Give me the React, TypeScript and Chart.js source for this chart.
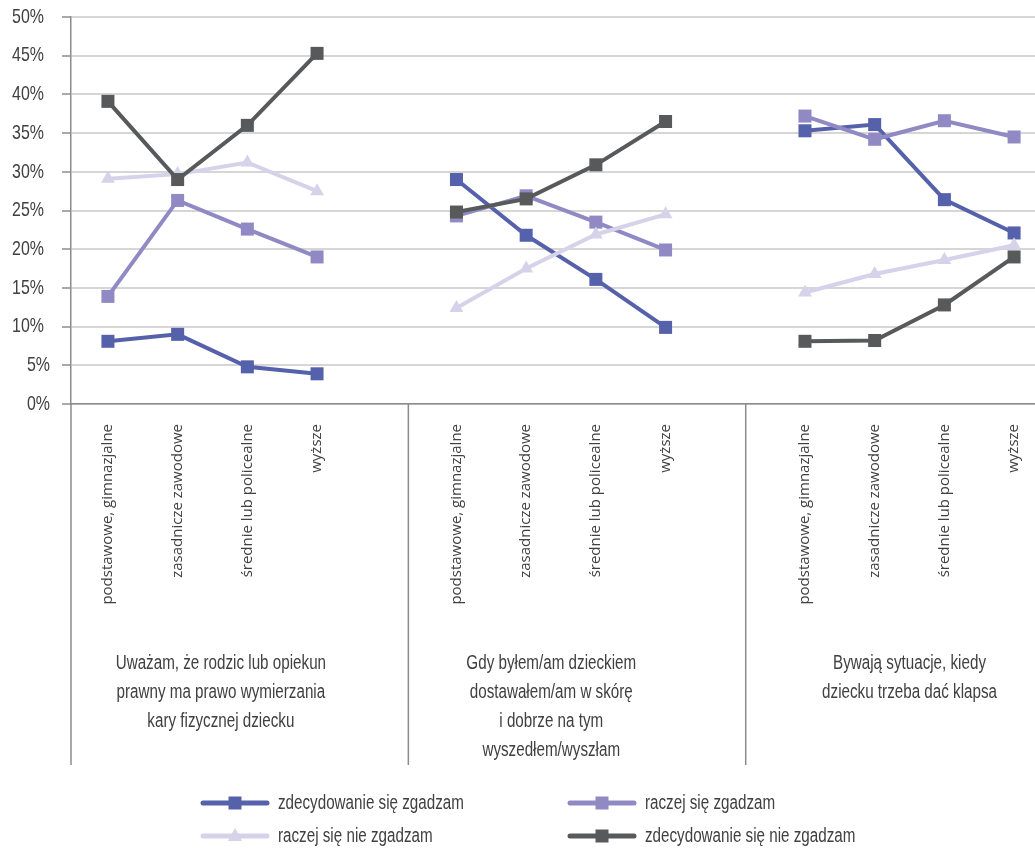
import React, { useEffect, useRef } from 'react';
import { Chart, registerables } from 'chart.js';

Chart.register(...registerables);

// ---------- data ----------
const categories = ['podstawowe, gimnazjalne', 'zasadnicze zawodowe', 'średnie lub policealne', 'wyższe'];

const groupTitles = [
  ['Uważam, że rodzic lub opiekun', 'prawny ma prawo wymierzania', 'kary fizycznej dziecku'],
  ['Gdy byłem/am dzieckiem', 'dostawałem/am w skórę', 'i dobrze na tym', 'wyszedłem/wyszłam'],
  ['Bywają sytuacje, kiedy', 'dziecku trzeba dać klapsa'],
];

const seriesNames = [
  'zdecydowanie się zgadzam',
  'raczej się zgadzam',
  'raczej się nie zgadzam',
  'zdecydowanie się nie zgadzam',
];

// values per group (3 groups x 4 categories)
const zdecydowanieZgadzam = [8.1, 9.0, 4.8, 3.9, 29.0, 21.8, 16.1, 9.9, 35.3, 36.1, 26.4, 22.1];
const raczejZgadzam = [13.9, 26.3, 22.6, 19.0, 24.3, 26.9, 23.5, 19.9, 37.2, 34.2, 36.6, 34.5];
const raczejNieZgadzam = [29.1, 29.7, 31.2, 27.5, 12.4, 17.5, 21.9, 24.5, 14.4, 16.8, 18.6, 20.5];
const zdecydowanieNieZgadzam = [39.1, 29.0, 36.0, 45.3, 24.8, 26.5, 30.9, 36.5, 8.1, 8.2, 12.8, 19.0];

const yTicks = [0, 5, 10, 15, 20, 25, 30, 35, 40, 45, 50];

// ---------- styles ----------
const COLORS = ['#5561ab', '#9189c4', '#d5d2ea', '#58595b'];
const POINT_STYLES = ['rect', 'rect', 'triangle', 'rect'];
const AXIS = '#8c8c8c';
const GRID = '#d6d6d6';
const TEXT = '#404040';
const NARROW = "'Liberation Sans', Arial, sans-serif";
const NARROW_SCALE = 0.76;
const NORMAL = "'Open Sans', 'Noto Sans', sans-serif";

const SLOT = categories.length + 1; // one empty slot between groups
const X_MIN = -0.53;
const X_MAX = 13.3;
const SEPARATORS = [4.31, 9.15];
const GROUP_CENTERS = [1.62, 6.36, 11.5];

function buildPoints(values: number[]) {
  const pts: { x: number; y: number | null }[] = [];
  groupTitles.forEach((_, g) => {
    categories.forEach((_, c) => {
      pts.push({ x: g * SLOT + c, y: values[g * categories.length + c] });
    });
    if (g < groupTitles.length - 1) pts.push({ x: g * SLOT + categories.length, y: null });
  });
  return pts;
}

function narrowText(ctx: CanvasRenderingContext2D, text: string, x: number, y: number, align: CanvasTextAlign, size: number) {
  ctx.save();
  ctx.translate(x, y);
  ctx.scale(NARROW_SCALE, 1);
  ctx.font = `${size}px ${NARROW}`;
  ctx.fillStyle = TEXT;
  ctx.textAlign = align;
  ctx.textBaseline = 'middle';
  ctx.fillText(text, 0, 0);
  ctx.restore();
}

function drawMarker(ctx: CanvasRenderingContext2D, style: string, x: number, y: number, color: string) {
  ctx.fillStyle = color;
  if (style === 'triangle') {
    ctx.beginPath();
    ctx.moveTo(x, y - 8);
    ctx.lineTo(x + 7, y + 5);
    ctx.lineTo(x - 7, y + 5);
    ctx.closePath();
    ctx.fill();
  } else {
    ctx.fillRect(x - 6.5, y - 6.5, 13, 13);
  }
}

const decorPlugin = {
  id: 'decor',
  afterDraw(chart: any) {
    const { ctx, chartArea, scales } = chart;
    const xs = scales.x;
    const ys = scales.y;
    ctx.save();
    // y tick labels (condensed)
    yTicks.forEach((v) => {
      const py = ys.getPixelForValue(v);
      narrowText(ctx, `${v}%`, v < 10 ? 50 : 44, py, 'right', 21);
    });
    // vertical axis extension and group separators
    ctx.strokeStyle = AXIS;
    ctx.lineWidth = 1.5;
    const vx = [chartArea.left, ...SEPARATORS.map((v) => xs.getPixelForValue(v))];
    vx.forEach((px) => {
      ctx.beginPath();
      ctx.moveTo(px, chartArea.bottom);
      ctx.lineTo(px, 765);
      ctx.stroke();
    });
    // group titles
    groupTitles.forEach((lines, g) => {
      const cx = xs.getPixelForValue(GROUP_CENTERS[g]);
      lines.forEach((t, i) => narrowText(ctx, t, cx, 663 + i * 29, 'center', 20));
    });
    // legend (2 columns)
    const cols = [203, 570];
    const rows = [803, 836];
    seriesNames.forEach((name, s) => {
      const lx = cols[s % 2];
      const ly = rows[Math.floor(s / 2)];
      ctx.strokeStyle = COLORS[s];
      ctx.lineWidth = 5;
      ctx.lineCap = 'round';
      ctx.beginPath();
      ctx.moveTo(lx, ly);
      ctx.lineTo(lx + 64, ly);
      ctx.stroke();
      drawMarker(ctx, POINT_STYLES[s], lx + 32, ly, COLORS[s]);
      narrowText(ctx, name, lx + 75, ly, 'left', 20);
    });
    ctx.restore();
  },
};

export default function App() {
  const canvasRef = useRef<HTMLCanvasElement>(null);

  useEffect(() => {
    document.body.style.margin = '0';
    document.body.style.overflow = 'hidden';
    document.documentElement.style.overflow = 'hidden';
    const canvas = canvasRef.current;
    if (!canvas) return;
    const allValues = [zdecydowanieZgadzam, raczejZgadzam, raczejNieZgadzam, zdecydowanieNieZgadzam];
    const tickSlots: number[] = [];
    groupTitles.forEach((_, g) => categories.forEach((_, c) => tickSlots.push(g * SLOT + c)));

    const chart = new Chart(canvas, {
      type: 'line',
      data: {
        datasets: allValues.map((vals, s) => ({
          label: seriesNames[s],
          data: buildPoints(vals),
          borderColor: COLORS[s],
          backgroundColor: COLORS[s],
          pointBackgroundColor: COLORS[s],
          pointBorderWidth: 0,
          pointStyle: POINT_STYLES[s] as any,
          pointRadius: POINT_STYLES[s] === 'triangle' ? 8 : 9.2,
          borderWidth: 4,
          tension: 0,
          spanGaps: false,
          order: 3 - s,
        })),
      },
      options: {
        responsive: false,
        animation: false,
        devicePixelRatio: 1,
        layout: { autoPadding: false, padding: { top: 17, right: 0, bottom: 0, left: 0 } },
        plugins: { legend: { display: false }, tooltip: { enabled: false } },
        scales: {
          x: {
            type: 'linear',
            min: X_MIN,
            max: X_MAX,
            afterBuildTicks: (scale: any) => {
              scale.ticks = tickSlots.map((v) => ({ value: v }));
            },
            afterFit: (scale: any) => {
              scale.height = 446;
              scale.paddingLeft = 0;
              scale.paddingRight = 0;
            },
            grid: { display: false, drawTicks: false },
            border: { display: true, color: AXIS, width: 1.5 },
            ticks: {
              autoSkip: false,
              minRotation: 90,
              maxRotation: 90,
              padding: 20,
              color: TEXT,
              font: { family: NORMAL, size: 15 },
              callback: (v: any) => categories[Number(v) % SLOT] ?? '',
            },
          },
          y: {
            min: 0,
            max: 50,
            afterBuildTicks: (scale: any) => {
              scale.ticks = yTicks.map((v) => ({ value: v }));
            },
            afterFit: (scale: any) => {
              scale.width = 71;
              scale.paddingTop = 0;
              scale.paddingBottom = 0;
            },
            grid: { color: GRID, lineWidth: 2, tickColor: AXIS, tickLength: 9, tickWidth: 1.5 },
            border: { display: true, color: AXIS, width: 1.5 },
            ticks: { display: false },
          },
        },
      },
      plugins: [decorPlugin],
    });
    return () => chart.destroy();
  }, []);

  return (
    <div style={{ position: 'absolute', left: 0, top: 0, width: 1035, height: 850, overflow: 'hidden' }}>
      <canvas ref={canvasRef} width={1035} height={850} style={{ display: 'block' }} />
    </div>
  );
}
